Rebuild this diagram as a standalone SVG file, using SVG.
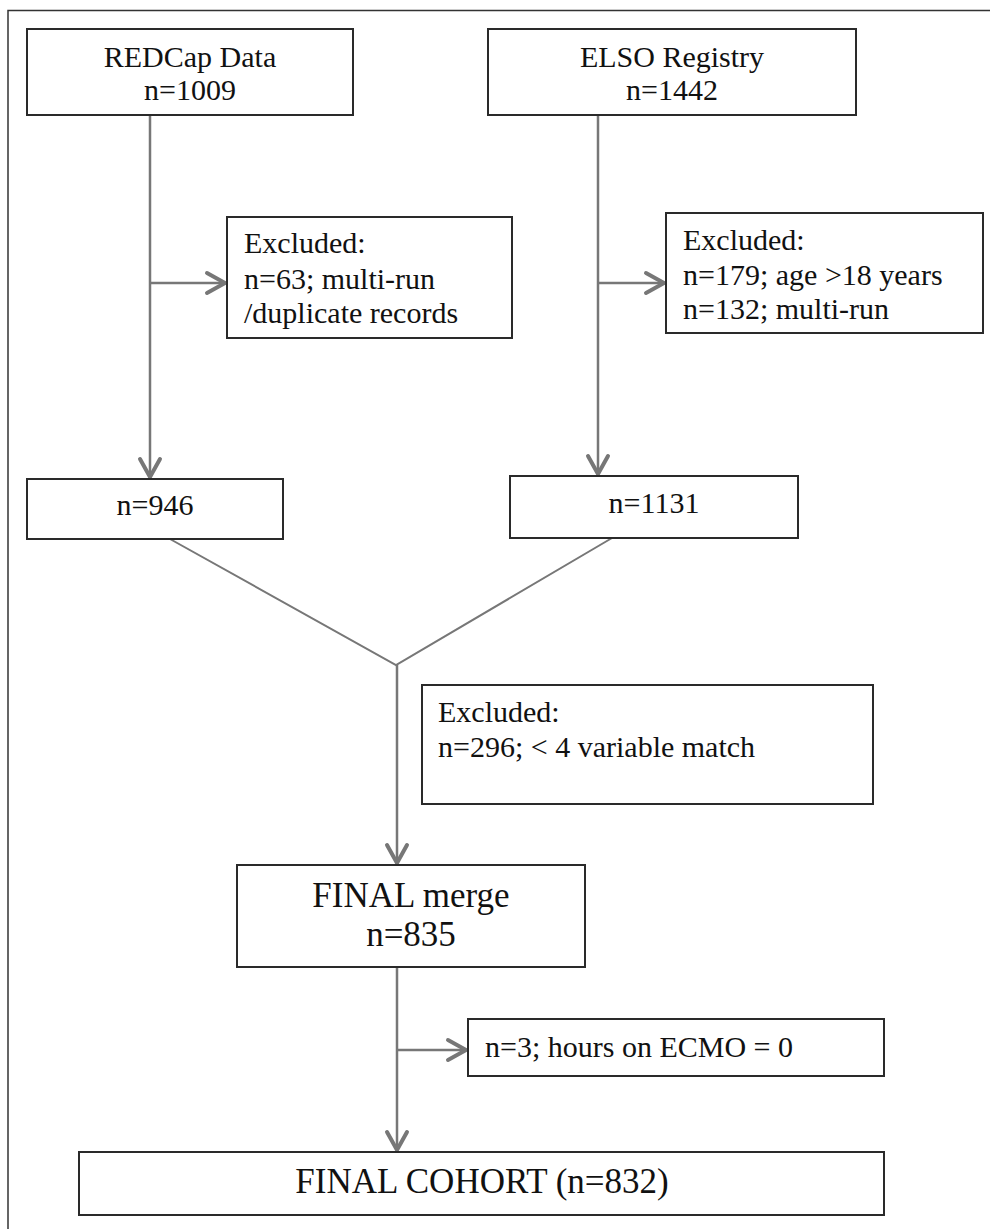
<svg xmlns="http://www.w3.org/2000/svg" width="990" height="1229" viewBox="0 0 990 1229">
  <defs>
    <marker id="arr" markerUnits="userSpaceOnUse" markerWidth="26" markerHeight="26" viewBox="0 0 26 26" refX="23" refY="13" orient="auto">
      <path d="M4,3 L22,13 L4,23" fill="none" stroke="#777777" stroke-width="4" stroke-linecap="round" stroke-linejoin="round"/>
    </marker>
  </defs>
  <style>
    .box { fill: #ffffff; stroke: #2a2a2a; stroke-width: 2; }
    .t { font-family: "Liberation Serif", "Times New Roman", serif; font-size: 30px; fill: #111111; }
    .tc { text-anchor: middle; }
    .big { font-size: 35px; }
    .con { fill: none; stroke: #777777; stroke-width: 2.5; }
    .diag { fill: none; stroke: #777777; stroke-width: 2; }
    .frame { fill: none; stroke: #333333; stroke-width: 1.5; }
  </style>
  <rect width="990" height="1229" fill="#ffffff"/>
  <path class="frame" d="M8,1229 L8,10.5 L990,10.5"/>

  <g id="connectors">
    <line class="con" x1="150" y1="115" x2="150" y2="478" marker-end="url(#arr)"/>
    <line class="con" x1="150" y1="283" x2="226" y2="283" marker-end="url(#arr)"/>
    <line class="con" x1="598" y1="115" x2="598" y2="475" marker-end="url(#arr)"/>
    <line class="con" x1="598" y1="283" x2="665" y2="283" marker-end="url(#arr)"/>
    <polyline class="diag" points="170,539 396,665 612,538"/>
    <line class="con" x1="397" y1="665" x2="397" y2="864" marker-end="url(#arr)"/>
    <line class="con" x1="397" y1="967" x2="397" y2="1151" marker-end="url(#arr)"/>
    <line class="con" x1="397" y1="1050" x2="467" y2="1050" marker-end="url(#arr)"/>
  </g>

  <g id="redcap">
    <rect class="box" x="27" y="29" width="326" height="86"/>
    <text class="t tc" x="190" y="67">REDCap Data</text>
    <text class="t tc" x="190" y="100">n=1009</text>
  </g>

  <g id="elso">
    <rect class="box" x="488" y="29" width="368" height="86"/>
    <text class="t tc" x="672" y="67">ELSO Registry</text>
    <text class="t tc" x="672" y="100">n=1442</text>
  </g>

  <g id="excluded-redcap">
    <rect class="box" x="227" y="217" width="285" height="121"/>
    <text class="t" x="244" y="253">Excluded:</text>
    <text class="t" x="244" y="289">n=63; multi-run</text>
    <text class="t" x="244" y="323">/duplicate records</text>
  </g>

  <g id="excluded-elso">
    <rect class="box" x="666" y="213" width="317" height="120"/>
    <text class="t" x="683" y="250">Excluded:</text>
    <text class="t" x="683" y="285">n=179; age &gt;18 years</text>
    <text class="t" x="683" y="319">n=132; multi-run</text>
  </g>

  <g id="n946">
    <rect class="box" x="27" y="479" width="256" height="60"/>
    <text class="t tc" x="155" y="515">n=946</text>
  </g>

  <g id="n1131">
    <rect class="box" x="510" y="476" width="288" height="62"/>
    <text class="t tc" x="654" y="513">n=1131</text>
  </g>

  <g id="excluded-match">
    <rect class="box" x="422" y="685" width="451" height="119"/>
    <text class="t" x="438" y="722">Excluded:</text>
    <text class="t" x="438" y="757">n=296; &lt; 4 variable match</text>
  </g>

  <g id="final-merge">
    <rect class="box" x="237" y="865" width="348" height="102"/>
    <text class="t big tc" x="411" y="907">FINAL merge</text>
    <text class="t big tc" x="411" y="946">n=835</text>
  </g>

  <g id="excluded-ecmo">
    <rect class="box" x="468" y="1019" width="416" height="57"/>
    <text class="t" x="485" y="1057">n=3; hours on ECMO = 0</text>
  </g>

  <g id="final-cohort">
    <rect class="box" x="79" y="1152" width="805" height="63"/>
    <text class="t big tc" x="482" y="1193">FINAL COHORT (n=832)</text>
  </g>
</svg>
